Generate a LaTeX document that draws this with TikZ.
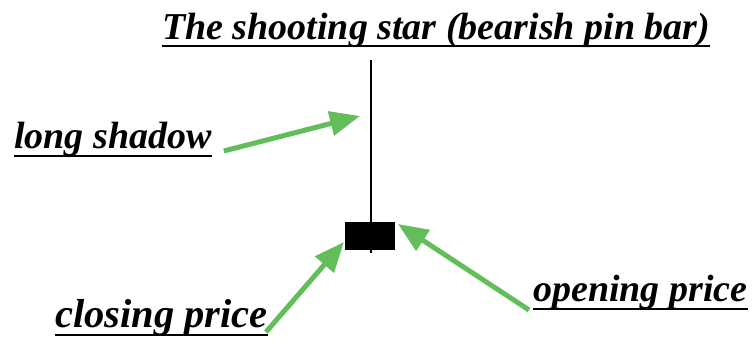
\documentclass[tikz,border=0pt]{standalone}
\usepackage{fontspec}
\setmainfont{Liberation Serif}
\usetikzlibrary{arrows.meta}
\definecolor{arrowgreen}{RGB}{98,190,88}
\tikzset{
  lbl/.style={anchor=base west, inner sep=0pt, font=\fontsize{38}{40}\selectfont\bfseries\itshape},
  uline/.style={line width=2pt, black},
  greenarrow/.style={draw=arrowgreen, line width=5pt, -{Triangle[length=30pt,width=24pt]}, shorten >=0pt}
}
\begin{document}
\begin{tikzpicture}[x=1pt,y=-1pt]
\useasboundingbox (0,0) rectangle (753,344);
% title
\node[lbl] (title) at (162,40) {The shooting star (bearish pin bar)};
\draw[uline] ([yshift=-6pt]title.base west) -- ([yshift=-6pt]title.base east);
% labels
\node[lbl] (shadow) at (14,149) {long shadow};
\draw[uline] ([yshift=-7pt]shadow.base west) -- ([yshift=-7pt]shadow.base east);
\node[lbl, font=\fontsize{40.5}{42}\selectfont\bfseries\itshape] (closing) at (55,328) {closing price};
\draw[uline] ([yshift=-7pt]closing.base west) -- ([yshift=-7pt]closing.base east);
\node[lbl] (opening) at (533,302) {opening price};
\draw[uline] ([yshift=-7pt]opening.base west) -- ([yshift=-7pt]opening.base east);
% candle
\coordinate (wicktop) at (371,60);
\coordinate (wickbot) at (371,253);
\draw[line width=1.4pt] (wicktop) -- (wickbot);
\node[fill=black, minimum width=50pt, minimum height=28pt, inner sep=0pt] (body) at (370,236) {};
% arrow targets
\coordinate (shadowtip) at (360,116);
\coordinate (closetip) at (344,242);
\coordinate (opentip) at (398,224);
\draw[greenarrow] ([xshift=12pt,yshift=-2pt]shadow.base east) -- (shadowtip);
\draw[greenarrow] ([xshift=-2pt,yshift=-4pt]closing.base east) -- (closetip);
\draw[greenarrow] ([xshift=-4pt,yshift=-8pt]opening.base west) -- (opentip);
\end{tikzpicture}
\end{document}
